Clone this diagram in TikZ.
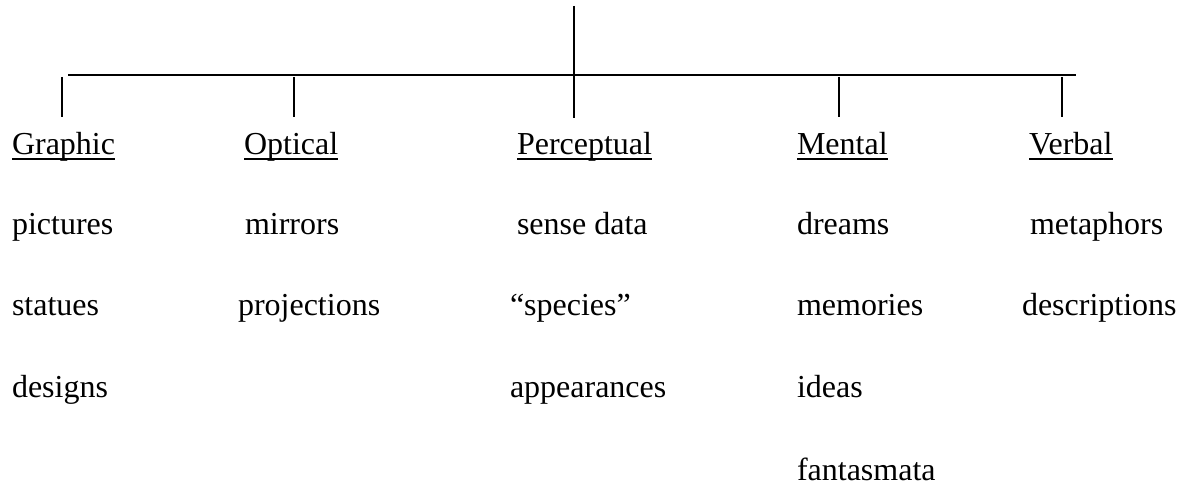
\documentclass[tikz,border=0pt]{standalone}
\usepackage{fontspec}
\setmainfont{Liberation Serif}
\usetikzlibrary{calc}

\begin{document}
\begin{tikzpicture}[x=0.5pt, y=-0.5pt, font=\fontsize{16}{19}\selectfont,
        entry/.style={anchor=base west, inner sep=0pt, outer sep=0pt},
        stem/.style={line width=1pt},
        bar/.style={line width=0.7pt},
        uline/.style={line width=0.75pt}]
    \useasboundingbox (0,0) rectangle (1183,485);

    \coordinate (root) at (574,6);
    \coordinate (perceptual foot) at (574,118);
    \coordinate (bar left) at (68,75);
    \coordinate (bar right) at (1076,75);
    \draw[bar] (bar left) -- (bar right);
    \draw[stem] (root) -- (perceptual foot);

    \foreach \name/\x in {graphic/62, optical/294, mental/839, verbal/1062} {
        \coordinate (\name top) at (\x,77);
        \coordinate (\name foot) at (\x,117);
        \draw[stem] (\name top) -- (\name foot);
    }

    \foreach \name/\x/\txt in {graphic/12/Graphic, optical/244/Optical, perceptual/517/Perceptual, mental/797/Mental, verbal/1029/Verbal} {
        \node[entry] (\name) at (\x,155) {\txt};
        \draw[uline] ([yshift=-2pt]\name.base west) -- ([yshift=-2pt]\name.base east);
    }

    \node[entry] (pictures) at (12,235) {pictures};
    \node[entry] (statues) at (12,316) {statues};
    \node[entry] (designs) at (12,398) {designs};

    \node[entry] (mirrors) at (245,235) {mirrors};
    \node[entry] (projections) at (238,316) {projections};

    \node[entry] (sense data) at (517,235) {sense data};
    \node[entry] (species) at (510,316) {“species”};
    \node[entry] (appearances) at (510,398) {appearances};

    \node[entry] (dreams) at (797,235) {dreams};
    \node[entry] (memories) at (797,316) {memories};
    \node[entry] (ideas) at (797,398) {ideas};
    \node[entry] (fantasmata) at (797,481) {fantasmata};

    \node[entry] (metaphors) at (1030,235) {metaphors};
    \node[entry] (descriptions) at (1022,316) {descriptions};
\end{tikzpicture}
\end{document}
